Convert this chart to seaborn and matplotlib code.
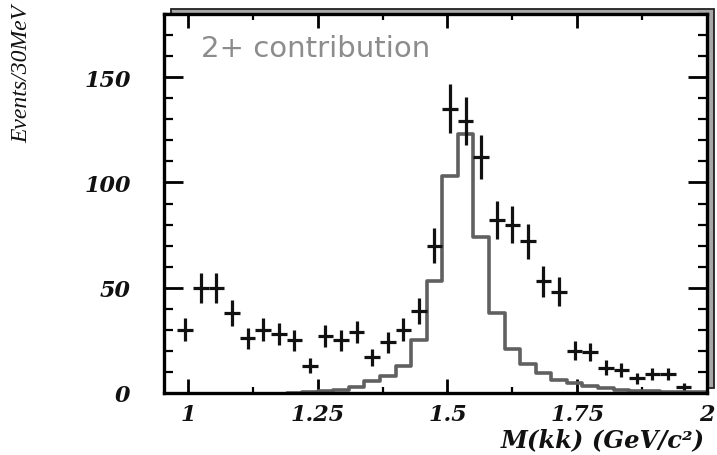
import numpy as np
import pandas as pd
import matplotlib
matplotlib.use("Agg")
import matplotlib.pyplot as plt
from matplotlib.patches import Rectangle, Polygon
from matplotlib.ticker import MultipleLocator, FixedLocator
import seaborn as sns

# ---- data ----
mass_centers = [0.995, 1.025, 1.055, 1.085, 1.115, 1.145, 1.175, 1.205, 1.235,
                1.265, 1.295, 1.325, 1.355, 1.385, 1.415, 1.445, 1.475, 1.505,
                1.535, 1.565, 1.595, 1.625, 1.655, 1.685, 1.715, 1.745, 1.775,
                1.805, 1.835, 1.865, 1.895, 1.925, 1.955]
events = [30, 50, 50, 38, 26, 30, 28, 25, 13, 27, 25, 29, 17, 24, 30, 39, 70,
          135, 129, 112, 82, 80, 72, 53, 48, 20, 19.5, 12, 11, 7, 9, 9, 3]
event_err = [5.5, 7.1, 7.1, 6.2, 5.1, 5.5, 5.3, 5.0, 3.6, 5.2, 5.0, 5.4, 4.1,
             4.9, 5.5, 6.2, 8.4, 11.6, 11.4, 10.6, 9.0, 8.9, 8.5, 7.3, 6.9,
             4.5, 4.4, 3.5, 3.3, 2.6, 3.0, 3.0, 1.7]
bin_halfwidth = 0.015

hist_edges = [1.19, 1.22, 1.25, 1.28, 1.31, 1.34, 1.37, 1.40, 1.43, 1.46, 1.49,
              1.52, 1.55, 1.58, 1.61, 1.64, 1.67, 1.70, 1.73, 1.76, 1.79, 1.82,
              1.85, 1.88, 1.91, 1.94, 1.97, 2.00]
hist_values = [0.2, 0.4, 0.8, 1.5, 3.0, 5.5, 8.0, 12.7, 25, 53, 103, 123, 74,
               38, 21, 14, 9.5, 6.3, 4.8, 3.2, 2.4, 1.6, 1.1, 0.8, 0.6, 0.4, 0.3]

x_ticks = [1.0, 1.25, 1.5, 1.75, 2.0]
x_tick_labels = ["1", "1.25", "1.5", "1.75", "2"]
y_ticks = [0, 50, 100, 150]
y_tick_labels = ["0", "50", "100", "150"]

# ---- figure ----
sns.set_theme(style="ticks")
plt.rcParams["font.family"] = ["DejaVu Sans"]

W, H = 717, 456
fig = plt.figure(figsize=(W / 100, H / 100), dpi=100)
ax = fig.add_axes([164 / W, 1 - 394 / H, 543 / W, 379 / H])

hist_centers = [(hist_edges[i] + hist_edges[i + 1]) / 2 for i in range(len(hist_values))]
hdf = pd.DataFrame({"m": hist_centers, "w": hist_values})
sns.histplot(data=hdf, x="m", weights="w", bins=hist_edges, element="step",
             fill=False, color="#606060", linewidth=2.6, ax=ax, zorder=2)

ax.errorbar(mass_centers, events, yerr=event_err, xerr=bin_halfwidth,
            fmt="none", ecolor="#111111", elinewidth=2.3, capsize=0, zorder=3)

ax.set_xlim(0.954, 2.0)
ax.set_ylim(0, 180)

ax.set_xticks(x_ticks)
ax.set_xticklabels(x_tick_labels)
ax.set_yticks(y_ticks)
ax.set_yticklabels(y_tick_labels)
ax.xaxis.set_minor_locator(FixedLocator([1.125, 1.375, 1.625, 1.875]))
ax.yaxis.set_minor_locator(MultipleLocator(10))

ax.tick_params(axis="y", which="major", direction="in", length=14, width=2,
               left=True, right=True, pad=24, color="black")
ax.tick_params(axis="y", which="minor", direction="in", length=6.5, width=1.6,
               left=True, right=True, color="black")
ax.tick_params(axis="x", which="major", direction="in", length=10, width=2,
               bottom=True, top=True, pad=7, color="black")
ax.tick_params(axis="x", which="minor", direction="in", length=4.5, width=1.6,
               bottom=True, top=True, color="black")

for lab in ax.get_xticklabels() + ax.get_yticklabels():
    lab.set_fontfamily("DejaVu Serif")
    lab.set_fontweight("bold")
    lab.set_fontstyle("italic")
    lab.set_fontsize(16)
    lab.set_color("#111111")

for sp in ax.spines.values():
    sp.set_visible(True)
    sp.set_linewidth(2.4)
    sp.set_color("black")

ax.set_xlabel("")
ax.set_ylabel("")

# gray bevel behind the frame (top and right)
bb = ax.get_position()
dx, dy = 7 / W, 5 / H
shadow = Rectangle((bb.x0 + dx, bb.y0 + dy), bb.width, bb.height,
                   transform=fig.transFigure, facecolor="#a8a8a8",
                   edgecolor="#222222", linewidth=1.3, zorder=-1)
fig.add_artist(shadow)

ax.text(1.026, 164, "2+ contribution", fontsize=21, color="#8c8c8c",
        family="DejaVu Sans", ha="left", va="center")

fig.text(0.031, 0.99, "Events/30MeV", rotation=90, ha="center", va="top",
         family="Liberation Serif", style="italic", fontsize=17, color="#111111")
fig.text(0.983, 0.035, "M(kk) (GeV/c²)", ha="right", va="center",
         family="DejaVu Serif", style="italic", weight="bold", fontsize=17.5,
         color="#111111")

fig.savefig("out.png", dpi=100, facecolor="white")
